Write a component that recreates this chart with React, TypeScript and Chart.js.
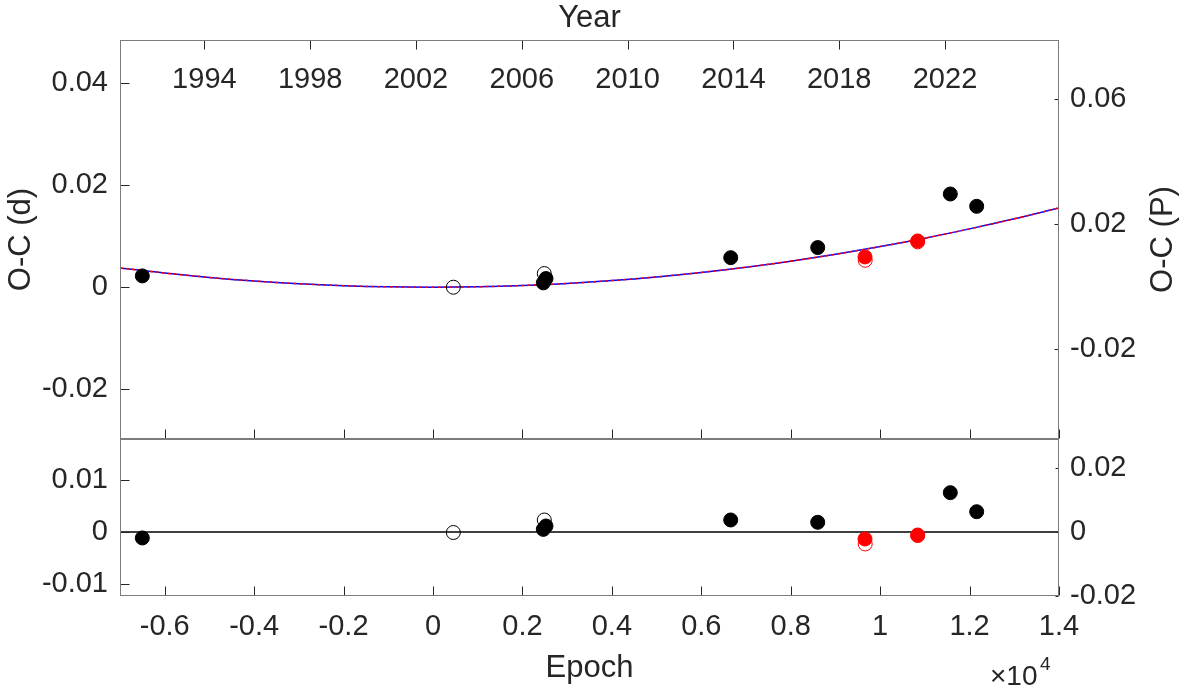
import React, { useEffect, useRef } from 'react';
import { Chart, registerables } from 'chart.js';
Chart.register(...registerables);

const W = 1181;
const H = 690;
const FONT = "'Liberation Sans', Arial, Helvetica, sans-serif";
const TEXT = '#262626';
const FRAME = '#7c7c7c';
const TICK_PX = 29;
const TITLE_PX = 31;

// ---- axes ----
const EPOCH_MIN = -7000;
const EPOCH_MAX = 14000;
const epochTicks = [-6000, -4000, -2000, 0, 2000, 4000, 6000, 8000, 10000, 12000, 14000];
const YEAR_MIN = 1990.81;
const YEAR_MAX = 2026.31;
const yearTicks = [1994, 1998, 2002, 2006, 2010, 2014, 2018, 2022];
const OC_D_MIN = -0.0298;
const OC_D_MAX = 0.04853;
const ocDayTicks = [-0.02, 0, 0.02, 0.04];
const OC_P_MIN = -0.0488;
const OC_P_MAX = 0.079;
const ocPeriodTicks = [-0.02, 0.02, 0.06];
const RES_D_MIN = -0.01231;
const RES_D_MAX = 0.01788;
const resDayTicks = [-0.01, 0, 0.01];
const RES_P_MIN = -0.02;
const RES_P_MAX = 0.0291;
const resPeriodTicks = [-0.02, 0, 0.02];

// ---- data ----
const filledEpoch = [-6501, 2467, 2527, 6658, 8604, 11569, 12159];
const filledOC = [0.00222, 0.00085, 0.0017, 0.0058, 0.00778, 0.0183, 0.01588];
const filledRes = [-0.00115, 0.0005, 0.00115, 0.00231, 0.00186, 0.00756, 0.0039];

const openEpoch = [455, 2489];
const openOC = [0, 0.00268];
const openRes = [-0.0001, 0.0023];

const redFilledEpoch = [9661, 10840];
const redFilledOC = [0.00594, 0.00908];
const redFilledRes = [-0.00135, -0.00058];

const redOpenEpoch = [9666, 10840];
const redOpenOC = [0.00529, 0.0089];
const redOpenRes = [-0.0023, -0.0007];

const fitEpoch = [-7000, -6000, -5000, -4000, -3000, -2000, -1000, 0, 1000, 2000, 3000, 4000, 5000, 6000, 7000, 8000, 9000, 10000, 11000, 12000, 13000, 14000];
const fitOC = [0.00379, 0.00278, 0.00192, 0.00122, 0.00068, 0.0003, 0.00007, 0, 0.00009, 0.00033, 0.00074, 0.0013, 0.00202, 0.00289, 0.00392, 0.00511, 0.00646, 0.00797, 0.00963, 0.01145, 0.01342, 0.01556];

const zeroEpoch = [EPOCH_MIN, EPOCH_MAX];
const zeroRes = [0, 0];

const zip = (xs: number[], ys: number[]) => xs.map((x, i) => ({ x, y: ys[i] }));
const fmt = (v: number) => {
  const r = Math.round(v * 1e6) / 1e6;
  return r === 0 ? '0' : String(r);
};
const tickFont = { size: TICK_PX, family: FONT };
const titleFont = { size: TITLE_PX, family: FONT };

function yAxis(pos: 'left' | 'right', min: number, max: number, ticks: number[], width: number, title?: string) {
  return {
    type: 'linear',
    position: pos,
    min,
    max,
    afterBuildTicks: (s: any) => {
      s.ticks = ticks.map((v) => ({ value: v }));
    },
    afterFit: (s: any) => {
      s.width = width;
    },
    grid: { display: false, drawTicks: false },
    border: { display: false },
    ticks: {
      font: tickFont,
      color: TEXT,
      padding: pos === 'left' ? 12 : 11,
      autoSkip: false,
      callback: (v: any) => fmt(Number(v)),
    },
    title: title
      ? { display: true, text: title, font: titleFont, color: TEXT, padding: { top: 3, bottom: 0 } }
      : { display: false },
  };
}

function pointSets(oc: boolean) {
  const yId = 'y';
  return [
    {
      data: zip(filledEpoch, oc ? filledOC : filledRes),
      yAxisID: yId,
      pointRadius: 7,
      pointBorderWidth: 1,
      backgroundColor: '#000000',
      borderColor: '#000000',
      order: 1,
    },
    {
      data: zip(redFilledEpoch, oc ? redFilledOC : redFilledRes),
      yAxisID: yId,
      pointRadius: 7,
      pointBorderWidth: 1,
      backgroundColor: '#ff0000',
      borderColor: '#ff0000',
      order: 2,
    },
    {
      data: zip(redOpenEpoch, oc ? redOpenOC : redOpenRes),
      yAxisID: yId,
      pointRadius: 7,
      pointBorderWidth: 1,
      backgroundColor: 'rgba(0,0,0,0)',
      borderColor: '#ff0000',
      order: 3,
    },
    {
      data: zip(openEpoch, oc ? openOC : openRes),
      yAxisID: yId,
      pointRadius: 7,
      pointBorderWidth: 1,
      backgroundColor: 'rgba(0,0,0,0)',
      borderColor: '#000000',
      order: 4,
    },
  ];
}

type DecorOpts = {
  leftTicks: number[];
  rightTicks: number[];
  leftLen: number;
  rightLen: number;
  year: boolean;
  rightTitle: string;
  rightTitleX: number;
  exponent: boolean;
};

function decor(o: DecorOpts) {
  return {
    id: 'decor',
    afterDraw(chart: any) {
      const { ctx, chartArea: a, scales } = chart;
      const L = Math.round(a.left) + 0.5;
      const R = Math.round(a.right) - 0.5;
      const T = Math.round(a.top) + 0.5;
      const B = Math.round(a.bottom) - 0.5;
      ctx.save();
      // ticks
      ctx.strokeStyle = TEXT;
      ctx.lineWidth = 1;
      ctx.beginPath();
      o.leftTicks.forEach((v) => {
        const y = Math.round(scales.y.getPixelForValue(v)) + 0.5;
        ctx.moveTo(L, y);
        ctx.lineTo(L + o.leftLen, y);
      });
      o.rightTicks.forEach((v) => {
        const y = Math.round(scales.y2.getPixelForValue(v)) + 0.5;
        ctx.moveTo(R, y);
        ctx.lineTo(R - o.rightLen, y);
      });
      epochTicks.forEach((v) => {
        const x = Math.round(scales.x.getPixelForValue(v)) + 0.5;
        ctx.moveTo(x, B);
        ctx.lineTo(x, B - 9);
      });
      if (o.year) {
        yearTicks.forEach((v) => {
          const x = Math.round(scales.year.getPixelForValue(v)) + 0.5;
          ctx.moveTo(x, T);
          ctx.lineTo(x, T + 9);
        });
      }
      ctx.stroke();
      // frame
      ctx.strokeStyle = FRAME;
      ctx.strokeRect(L, T, R - L, B - T);
      // texts
      ctx.fillStyle = TEXT;
      ctx.font = `${TICK_PX}px ${FONT}`;
      ctx.textAlign = 'center';
      ctx.textBaseline = 'middle';
      if (o.year) {
        yearTicks.forEach((v) => {
          ctx.fillText(String(v), scales.year.getPixelForValue(v), a.top + 40);
        });
      }
      if (o.rightTitle) {
        ctx.save();
        ctx.font = `${TITLE_PX}px ${FONT}`;
        ctx.translate(o.rightTitleX, (a.top + a.bottom) / 2);
        ctx.rotate(-Math.PI / 2);
        ctx.fillText(o.rightTitle, 0, 0);
        ctx.restore();
      }
      if (o.exponent) {
        ctx.textAlign = 'left';
        ctx.textBaseline = 'alphabetic';
        ctx.font = `28px ${FONT}`;
        ctx.fillText('\u00d710', a.right - 69, a.bottom + 89);
        ctx.font = `19px ${FONT}`;
        ctx.fillText('4', a.right - 19, a.bottom + 74);
      }
      ctx.restore();
    },
  };
}

function topConfig(): any {
  return {
    type: 'scatter',
    data: {
      datasets: [
        ...pointSets(true),
        {
          data: zip(fitEpoch, fitOC),
          yAxisID: 'y',
          showLine: true,
          pointRadius: 0,
          borderColor: '#ff0000',
          borderWidth: 1.5,
          borderDash: [3, 3],
          tension: 0.4,
          order: 5,
        },
        {
          data: zip(fitEpoch, fitOC),
          yAxisID: 'y',
          showLine: true,
          pointRadius: 0,
          borderColor: '#0000ff',
          borderWidth: 1.5,
          tension: 0.4,
          order: 6,
        },
      ],
    },
    options: {
      responsive: false,
      animation: false,
      events: [],
      layout: { padding: { left: 0, right: 0, top: 0, bottom: H - 439 } },
      plugins: { legend: { display: false }, tooltip: { enabled: false } },
      scales: {
        x: { type: 'linear', position: 'bottom', min: EPOCH_MIN, max: EPOCH_MAX, display: false },
        year: {
          type: 'linear',
          position: 'top',
          min: YEAR_MIN,
          max: YEAR_MAX,
          afterBuildTicks: (s: any) => {
            s.ticks = yearTicks.map((v) => ({ value: v }));
          },
          afterFit: (s: any) => {
            s.height = 40;
          },
          grid: { display: false, drawTicks: false },
          border: { display: false },
          ticks: { display: false },
          title: { display: true, text: 'Year', font: titleFont, color: TEXT, padding: { top: 0, bottom: 0 } },
        },
        y: yAxis('left', OC_D_MIN, OC_D_MAX, ocDayTicks, 120, 'O-C (d)'),
        y2: yAxis('right', OC_P_MIN, OC_P_MAX, ocPeriodTicks, W - 1059),
      },
    },
    plugins: [
      decor({
        leftTicks: ocDayTicks,
        rightTicks: ocPeriodTicks,
        leftLen: 9,
        rightLen: 4,
        year: true,
        rightTitle: 'O-C (P)',
        rightTitleX: 1163,
        exponent: false,
      }),
    ],
  };
}

function bottomConfig(): any {
  return {
    type: 'scatter',
    data: {
      datasets: [
        ...pointSets(false),
        {
          data: zip(zeroEpoch, zeroRes),
          yAxisID: 'y',
          showLine: true,
          pointRadius: 0,
          borderColor: '#000000',
          borderWidth: 1.3,
          order: 5,
        },
      ],
    },
    options: {
      responsive: false,
      animation: false,
      events: [],
      layout: { padding: { left: 0, right: 0, top: 439, bottom: 0 } },
      plugins: { legend: { display: false }, tooltip: { enabled: false } },
      scales: {
        x: {
          type: 'linear',
          position: 'bottom',
          min: EPOCH_MIN,
          max: EPOCH_MAX,
          afterBuildTicks: (s: any) => {
            s.ticks = epochTicks.map((v) => ({ value: v }));
          },
          afterFit: (s: any) => {
            s.height = H - 596;
          },
          grid: { display: false, drawTicks: false },
          border: { display: false },
          ticks: {
            font: tickFont,
            color: TEXT,
            padding: 14,
            autoSkip: false,
            maxRotation: 0,
            callback: (v: any) => fmt(Number(v) / 1e4),
          },
          title: { display: true, text: 'Epoch', font: titleFont, color: TEXT, padding: { top: 0, bottom: 3 } },
        },
        y: yAxis('left', RES_D_MIN, RES_D_MAX, resDayTicks, 120),
        y2: yAxis('right', RES_P_MIN, RES_P_MAX, resPeriodTicks, W - 1059),
      },
    },
    plugins: [
      decor({
        leftTicks: resDayTicks,
        rightTicks: resPeriodTicks,
        leftLen: 9,
        rightLen: 3,
        year: false,
        rightTitle: '',
        rightTitleX: 0,
        exponent: true,
      }),
    ],
  };
}

export default function App() {
  const topRef = useRef<HTMLCanvasElement>(null);
  const botRef = useRef<HTMLCanvasElement>(null);
  useEffect(() => {
    const c1 = new Chart(topRef.current as HTMLCanvasElement, topConfig());
    const c2 = new Chart(botRef.current as HTMLCanvasElement, bottomConfig());
    return () => {
      c1.destroy();
      c2.destroy();
    };
  }, []);
  const cs: React.CSSProperties = { position: 'absolute', left: 0, top: 0, width: W, height: H };
  return (
    <div style={{ position: 'absolute', left: 0, top: 0, width: W, height: H, background: '#ffffff' }}>
      <canvas ref={topRef} width={W} height={H} style={cs} />
      <canvas ref={botRef} width={W} height={H} style={cs} />
    </div>
  );
}
